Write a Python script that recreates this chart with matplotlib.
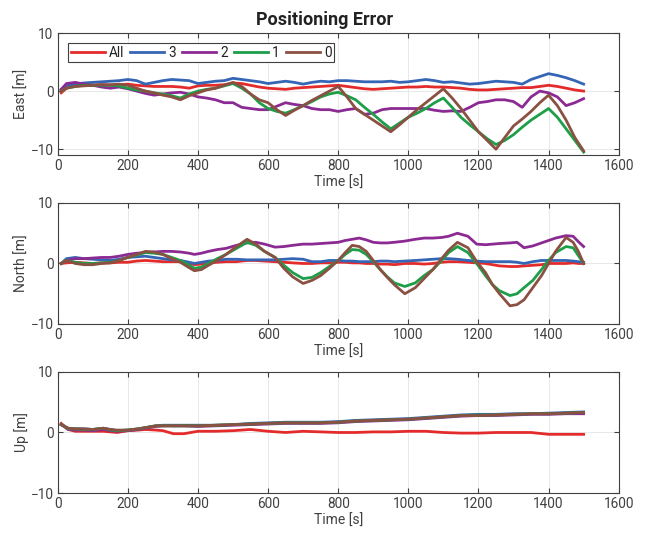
import matplotlib

matplotlib.use("Agg")
import matplotlib.pyplot as plt

plt.rcParams["font.family"] = ["Roboto", "DejaVu Sans"]

# --- data ----------------------------------------------------------------
series_names = ["All", "3", "2", "1", "0"]
colors = ["#e32b2b", "#3565b5", "#8c2a93", "#1d9e48", "#8a5142"]

# East
east_t = [10, 25, 50, 75, 100, 125, 150, 175, 200, 225, 250, 275, 300, 325,
          350, 375, 400, 425, 450, 475, 500, 525, 550, 575, 600, 625, 650,
          675, 700, 725, 750, 775, 800, 825, 850, 875, 900, 925, 950, 975,
          1000, 1025, 1050, 1075, 1100, 1125, 1150, 1175, 1200, 1225, 1250,
          1275, 1300, 1325, 1350, 1375, 1400, 1425, 1450, 1475, 1500]
east_all = [-0.3, 0.5, 1.0, 1.0, 1.0, 1.1, 1.0, 1.1, 1.2, 1.0, 0.9, 0.8,
            0.8, 0.8, 0.7, 0.5, 0.9, 1.0, 1.0, 1.1, 1.4, 1.3, 1.0, 0.7,
            0.5, 0.4, 0.3, 0.5, 0.6, 0.7, 0.8, 0.9, 1.0, 0.8, 0.6, 0.4,
            0.3, 0.4, 0.5, 0.6, 0.7, 0.7, 0.8, 0.7, 0.7, 0.6, 0.5, 0.3,
            0.2, 0.2, 0.3, 0.4, 0.5, 0.6, 0.6, 0.8, 1.0, 0.8, 0.5, 0.2, 0.0]
east_3 = [0.3, 1.0, 1.2, 1.4, 1.5, 1.6, 1.7, 1.8, 2.0, 1.8, 1.2, 1.5, 1.8,
          2.0, 1.9, 1.8, 1.3, 1.5, 1.7, 1.8, 2.2, 2.0, 1.8, 1.6, 1.3, 1.5,
          1.7, 1.5, 1.2, 1.5, 1.7, 1.6, 1.8, 1.8, 1.7, 1.6, 1.6, 1.6, 1.7,
          1.5, 1.6, 1.8, 2.0, 1.8, 1.5, 1.6, 1.4, 1.2, 1.3, 1.5, 1.7, 1.6,
          1.5, 1.2, 2.0, 2.5, 3.0, 2.7, 2.3, 1.8, 1.2]
east_2 = [0.3, 1.3, 1.5, 1.2, 1.0, 0.7, 0.5, 0.7, 0.4, 0.0, -0.4, -0.7,
          -0.5, -0.3, -0.2, -0.5, -1.0, -1.2, -1.5, -2.0, -2.0, -2.8, -3.0,
          -3.2, -3.2, -2.6, -2.0, -2.3, -2.5, -3.0, -3.2, -3.2, -3.5, -3.2,
          -3.0, -4.0, -3.8, -3.2, -3.0, -3.0, -3.0, -3.0, -3.0, -3.3, -3.5,
          -3.4, -3.5, -2.8, -2.0, -1.8, -1.5, -1.5, -1.8, -2.8, -1.0, 0.0,
          -0.3, -1.0, -2.5, -2.0, -1.3]
east_1 = [0.0, 0.5, 0.8, 1.0, 1.0, 1.0, 1.0, 0.9, 0.5, 0.2, 0.0, -0.3,
          -0.5, -0.8, -1.2, -0.5, 0.0, 0.3, 0.5, 0.9, 1.3, 0.5, -0.5,
          -2.0, -3.0, -3.5, -3.8, -3.2, -2.5, -1.8, -1.0, -0.5, -0.2, -0.8,
          -1.5, -2.8, -4.0, -5.3, -6.5, -5.5, -4.5, -3.8, -3.0, -2.0, -1.2,
          -2.8, -4.5, -5.8, -7.0, -8.2, -9.2, -8.5, -7.5, -6.2, -5.0, -4.0,
          -3.0, -4.5, -6.5, -8.5, -10.5]
east_0 = [0.0, 0.5, 0.8, 0.9, 1.0, 1.1, 1.1, 1.2, 1.0, 0.5, 0.0, -0.3,
          -0.7, -1.0, -1.5, -0.8, -0.3, 0.2, 0.5, 1.0, 1.5, 0.8, -0.5,
          -1.5, -2.0, -3.2, -4.2, -3.3, -2.5, -1.6, -0.8, 0.0, 0.8, -1.0,
          -3.0, -4.0, -5.0, -6.0, -7.0, -5.8, -4.5, -3.2, -2.0, -0.8, 0.4,
          -1.2, -3.0, -5.0, -7.0, -8.5, -10.0, -8.0, -6.0, -4.8, -3.5, -2.0,
          -0.7, -2.5, -5.0, -8.0, -10.3]

# North
north_t = [10, 25, 50, 75, 100, 125, 150, 175, 200, 225, 250, 275, 300, 325,
           350, 375, 390, 410, 430, 455, 480, 510, 540, 565, 590, 620, 645,
           670, 700, 725, 750, 775, 800, 820, 840, 860, 880, 900, 920, 940,
           960, 990, 1020, 1045, 1070, 1095, 1115, 1140, 1170, 1195, 1220,
           1240, 1260, 1290, 1310, 1330, 1355, 1380, 1400, 1420, 1450, 1470,
           1485, 1500]
north_all = [0.0, 0.1, 0.2, 0.1, 0.0, 0.1, 0.1, 0.2, 0.2, 0.4, 0.5, 0.4,
             0.3, 0.3, 0.3, 0.0, -0.2, -0.1, 0.1, 0.2, 0.3, 0.3, 0.5, 0.5,
             0.4, 0.3, 0.2, 0.1, 0.0, 0.0, 0.1, 0.1, 0.2, 0.2, 0.1, 0.1,
             0.0, 0.0, -0.1, -0.1, -0.2, 0.0, 0.0, -0.1, 0.0, 0.2, 0.3, 0.3,
             0.2, 0.1, 0.0, -0.2, -0.4, -0.5, -0.5, -0.4, -0.3, -0.2, 0.0,
             0.0, 0.0, 0.1, 0.0, 0.0]
north_3 = [0.0, 0.8, 1.0, 0.8, 0.7, 0.6, 0.5, 0.7, 1.0, 1.1, 1.2, 1.0,
           0.8, 0.6, 0.5, 0.2, 0.0, 0.2, 0.4, 0.5, 0.7, 0.7, 0.6, 0.6, 0.6,
           0.6, 0.7, 0.8, 0.7, 0.3, 0.3, 0.5, 0.5, 0.4, 0.4, 0.3, 0.3, 0.3,
           0.4, 0.4, 0.3, 0.4, 0.5, 0.6, 0.7, 0.8, 0.8, 0.7, 0.5, 0.4, 0.3,
           0.3, 0.3, 0.3, 0.2, 0.0, 0.3, 0.5, 0.5, 0.5, 0.5, 0.4, 0.3, 0.2]
north_2 = [0.0, 0.5, 0.8, 0.8, 0.9, 1.0, 1.0, 1.2, 1.5, 1.7, 1.8, 1.9,
           2.0, 2.0, 1.9, 1.7, 1.5, 1.7, 2.0, 2.3, 2.5, 3.0, 3.4, 3.5, 3.2,
           2.7, 2.8, 3.0, 3.2, 3.2, 3.3, 3.4, 3.5, 3.8, 4.0, 4.2, 3.9, 3.5,
           3.4, 3.4, 3.5, 3.7, 4.0, 4.2, 4.2, 4.3, 4.5, 5.0, 4.5, 3.2, 3.1,
           3.2, 3.3, 3.4, 3.5, 2.6, 2.9, 3.4, 3.8, 4.2, 4.6, 4.5, 3.6, 2.8]
north_1 = [0.0, 0.5, 0.2, 0.0, 0.0, 0.1, 0.2, 0.5, 1.0, 1.4, 1.8, 1.7,
           1.5, 1.0, 0.5, -0.3, -0.8, -0.6, 0.0, 0.8, 1.5, 2.5, 3.5, 3.0,
           2.0, 1.0, -0.3, -1.5, -2.5, -2.3, -1.5, -0.5, 0.5, 1.5, 2.3, 2.2,
           1.5, 0.3, -1.0, -2.2, -3.2, -3.8, -3.2, -2.0, -1.0, 0.5, 1.8, 2.8,
           1.8, 0.0, -2.0, -3.5, -4.5, -5.3, -5.0, -4.0, -2.8, -1.0, 0.5,
           1.8, 2.8, 2.6, 1.3, 0.0]
north_0 = [0.0, 0.5, 0.0, -0.2, -0.2, 0.0, 0.1, 0.5, 1.0, 1.5, 2.0, 1.9,
           1.5, 0.8, 0.2, -0.7, -1.2, -1.0, -0.3, 0.5, 1.5, 2.8, 4.0, 3.2,
           2.0, 1.0, -0.8, -2.2, -3.3, -2.8, -2.0, -0.8, 0.5, 1.8, 3.0, 2.8,
           2.0, 0.5, -1.0, -2.3, -3.5, -5.0, -4.0, -2.5, -1.0, 0.8, 2.2, 3.5,
           2.6, 0.3, -1.5, -3.5, -5.0, -7.0, -6.8, -6.0, -4.0, -2.0, 0.0,
           2.0, 4.3, 3.5, 2.0, 0.0]

# Up
up_t = [10, 20, 30, 50, 75, 100, 130, 150, 170, 200, 230, 250, 280, 300,
        330, 360, 400, 450, 500, 550, 600, 650, 700, 750, 800, 850, 900,
        950, 1000, 1050, 1100, 1150, 1200, 1250, 1300, 1350, 1400, 1450,
        1500]
up_all = [1.5, 1.0, 0.5, 0.2, 0.2, 0.2, 0.2, 0.1, 0.0, 0.3, 0.4, 0.5, 0.4,
          0.3, -0.2, -0.2, 0.2, 0.2, 0.3, 0.5, 0.2, 0.0, 0.2, 0.1, 0.0, 0.0,
          0.1, 0.1, 0.2, 0.2, 0.0, -0.1, -0.1, 0.0, 0.0, 0.0, -0.3, -0.3,
          -0.3]
up_3 = [1.3, 1.0, 0.7, 0.6, 0.6, 0.5, 0.7, 0.5, 0.3, 0.4, 0.6, 0.8, 1.1,
        1.2, 1.2, 1.2, 1.2, 1.2, 1.3, 1.5, 1.6, 1.7, 1.7, 1.7, 1.8, 2.0, 2.1,
        2.2, 2.3, 2.5, 2.7, 2.9, 3.0, 3.0, 3.1, 3.1, 3.2, 3.3, 3.4]
up_2 = [1.3, 0.9, 0.5, 0.4, 0.4, 0.3, 0.5, 0.3, 0.2, 0.3, 0.5, 0.7, 1.0,
        1.1, 1.1, 1.1, 1.0, 1.1, 1.2, 1.3, 1.4, 1.5, 1.5, 1.5, 1.6, 1.8, 1.9,
        2.0, 2.1, 2.3, 2.5, 2.7, 2.8, 2.8, 2.9, 3.0, 3.0, 3.1, 3.1]
up_1 = [1.3, 1.0, 0.6, 0.6, 0.5, 0.5, 0.7, 0.4, 0.3, 0.4, 0.6, 0.8, 1.1,
        1.1, 1.1, 1.1, 1.1, 1.2, 1.3, 1.4, 1.5, 1.6, 1.6, 1.6, 1.7, 1.9, 2.0,
        2.1, 2.2, 2.4, 2.6, 2.8, 2.9, 2.9, 3.0, 3.1, 3.1, 3.2, 3.3]
up_0 = [1.3, 1.0, 0.7, 0.6, 0.6, 0.5, 0.7, 0.5, 0.4, 0.4, 0.6, 0.8, 1.1,
        1.1, 1.1, 1.1, 1.1, 1.2, 1.3, 1.4, 1.5, 1.6, 1.6, 1.6, 1.7, 1.9, 2.0,
        2.1, 2.2, 2.4, 2.6, 2.8, 2.8, 2.9, 3.0, 3.1, 3.1, 3.2, 3.3]

panels = [
    ("East [m]", east_t, [east_all, east_3, east_2, east_1, east_0], (-11, 10)),
    ("North [m]", north_t, [north_all, north_3, north_2, north_1, north_0], (-10, 10)),
    ("Up [m]", up_t, [up_all, up_3, up_2, up_1, up_0], (-10, 10)),
]
x_ticks = list(range(0, 1601, 200))
y_ticks = [-10, 0, 10]

# --- figure --------------------------------------------------------------
fig = plt.figure(figsize=(6.49, 5.35), dpi=100)
rects = [
    [0.0889, 0.7103, 0.8644, 0.2280],
    [0.0889, 0.3944, 0.8644, 0.2262],
    [0.0889, 0.0785, 0.8644, 0.2262],
]
text_c = "#404040"

for i, (ylab, t, ys, ylim) in enumerate(panels):
    ax = fig.add_axes(rects[i])
    for name, y, c in zip(series_names, ys, colors):
        ax.plot(t, y, color=c, lw=2.0, label=name, solid_joinstyle="round")
    ax.set_xlim(0, 1600)
    ax.set_ylim(*ylim)
    ax.set_xticks(x_ticks)
    ax.set_yticks(y_ticks)
    ax.grid(True, color="#e8e8e8", lw=0.7)
    ax.set_axisbelow(True)
    ax.tick_params(direction="in", top=True, right=True, length=3.5,
                   width=0.8, colors=text_c, labelsize=9.8, pad=3)
    for s in ax.spines.values():
        s.set_color(text_c)
        s.set_linewidth(0.8)
    ax.set_xlabel("Time [s]", fontsize=10, color=text_c, labelpad=2)
    ax.set_ylabel(ylab, fontsize=10, color=text_c, labelpad=1)
    if i == 0:
        ax.set_title("Positioning Error", fontsize=13, fontweight="bold",
                     color="#222222", pad=6, x=0.476)
        leg = ax.legend(loc="upper left", ncol=5, fontsize=9.8,
                        bbox_to_anchor=(0.006, 0.975), handlelength=2.5,
                        handletextpad=0.3, columnspacing=0.45,
                        borderpad=0.2, fancybox=False, framealpha=1)
        leg.get_frame().set_edgecolor(text_c)
        leg.get_frame().set_linewidth(0.8)
        for txt in leg.get_texts():
            txt.set_color("#222222")

fig.savefig("out.png", dpi=100)
